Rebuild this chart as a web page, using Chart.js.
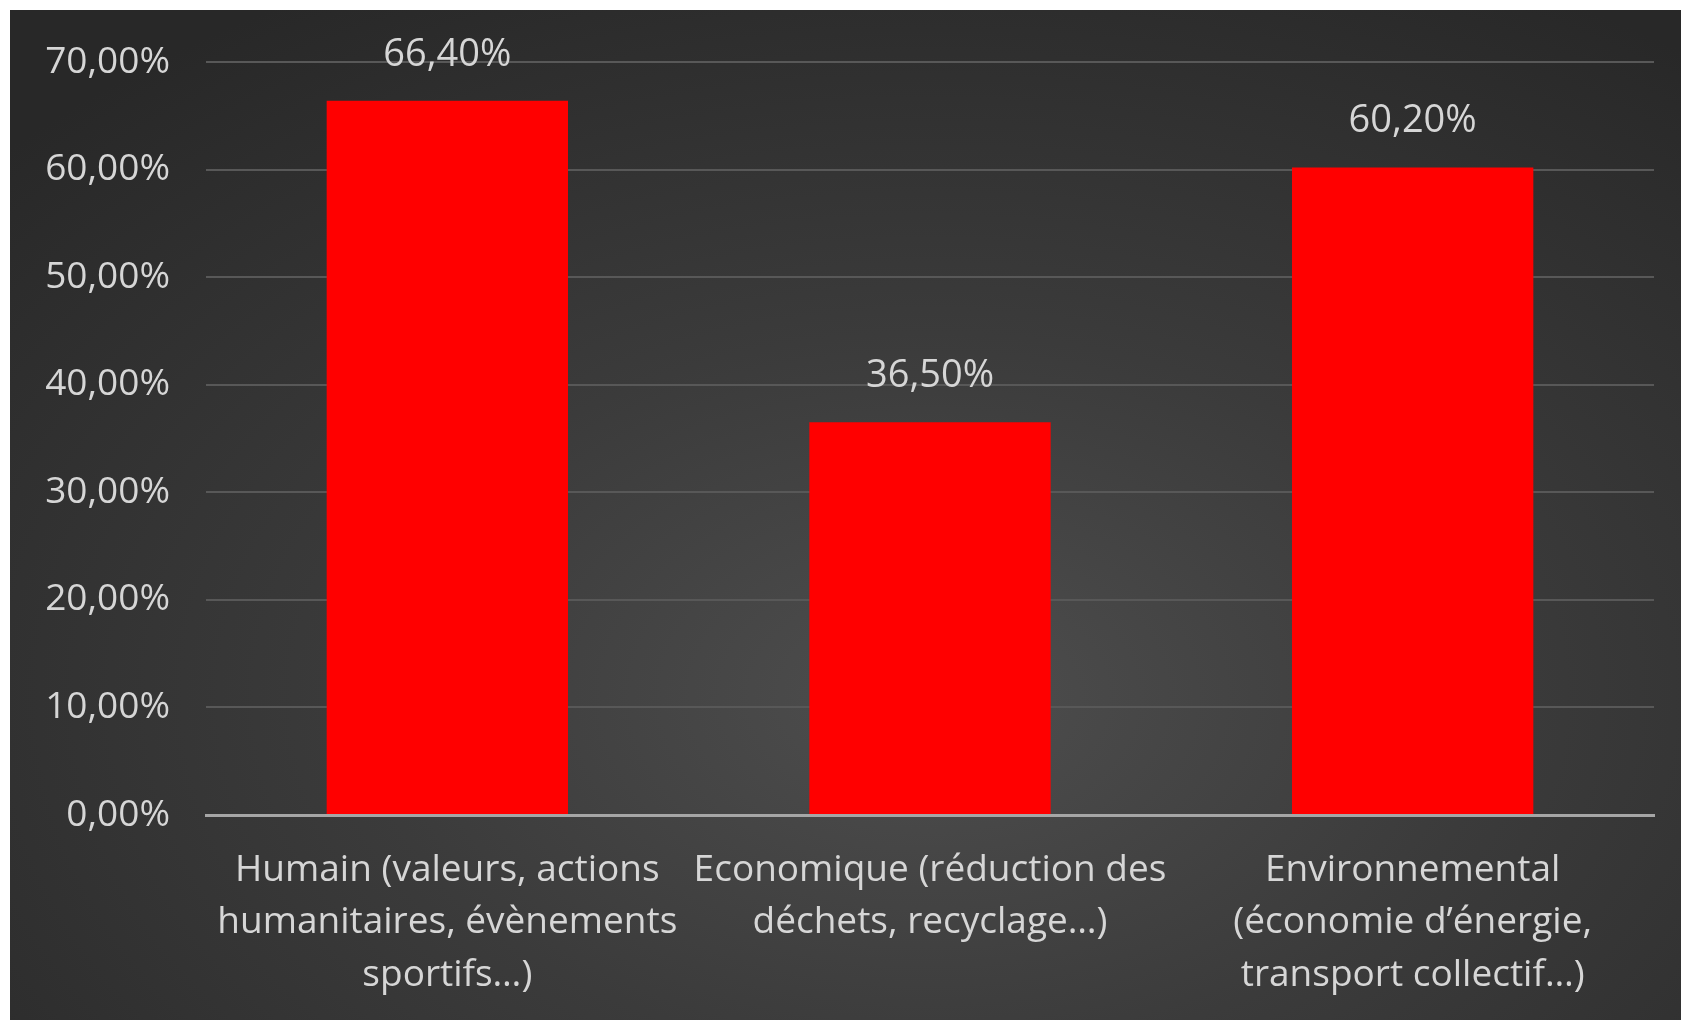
<!DOCTYPE html>
<html>
<head>
<meta charset="utf-8">
<script src="https://cdn.jsdelivr.net/npm/chart.js@4"></script>
<style>
  html, body { margin: 0; padding: 0; background: #fff; }
  #wrap {
    position: absolute; left: 10px; top: 10px; width: 1671px; height: 1010px;
    background: radial-gradient(ellipse 75% 80% at 55% 68%, #4e4e4e 0%, #3b3b3b 45%, #282828 100%);
  }
</style>
</head>
<body>
<div id="wrap"><canvas id="chart"></canvas></div>
<script>
const categories = [
  ["Humain (valeurs, actions", "humanitaires, évènements", "sportifs…)"],
  ["Economique (réduction des", "déchets, recyclage…)"],
  ["Environnemental", "(économie d’énergie,", "transport collectif…)"]
];
const values = [66.4, 36.5, 60.2];
const yTicks = [0, 10, 20, 30, 40, 50, 60, 70];

const fontFamily = "'Open Sans', sans-serif";
const textColor = "#d6d6d6";
const fmt = (v) => v.toFixed(2).replace(".", ",") + "%";

// value labels above each bar
const valueLabels = {
  id: "valueLabels",
  afterDatasetsDraw(chart) {
    const ctx = chart.ctx;
    const meta = chart.getDatasetMeta(0);
    ctx.save();
    ctx.font = "38px " + fontFamily;
    ctx.fillStyle = textColor;
    ctx.textAlign = "center";
    ctx.textBaseline = "middle";
    meta.data.forEach((bar, i) => {
      ctx.fillText(fmt(values[i]), bar.x, bar.y - 46);
    });
    ctx.restore();
  }
};

new Chart(document.getElementById("chart"), {
  type: "bar",
  data: {
    labels: categories,
    datasets: [{
      data: values,
      backgroundColor: "#ff0000",
      categoryPercentage: 1,
      barPercentage: 0.5
    }]
  },
  options: {
    responsive: true,
    maintainAspectRatio: false,
    animation: false,
    layout: { padding: { top: 52, right: 27, left: 0, bottom: 0 } },
    plugins: { legend: { display: false }, tooltip: { enabled: false } },
    scales: {
      x: {
        grid: { display: false, drawTicks: false },
        border: { color: "#a6a6a6", width: 3 },
        ticks: {
          color: textColor,
          font: { family: fontFamily, size: 37, lineHeight: 1.42 },
          padding: 29,
          maxRotation: 0,
          autoSkip: false
        },
        afterFit(scale) { scale.height = 205; }
      },
      y: {
        min: 0,
        max: 70,
        afterBuildTicks(scale) { scale.ticks = yTicks.map((v) => ({ value: v })); },
        grid: { color: "#585858", lineWidth: 2, drawTicks: false },
        border: { display: false },
        ticks: {
          color: textColor,
          font: { family: fontFamily, size: 37 },
          padding: 36,
          callback: (v) => fmt(v)
        },
        afterFit(scale) {
          scale.width = 196;
          scale.paddingTop = 0;
          scale.paddingBottom = 0;
        }
      }
    }
  },
  plugins: [valueLabels]
});
</script>
</body>
</html>
